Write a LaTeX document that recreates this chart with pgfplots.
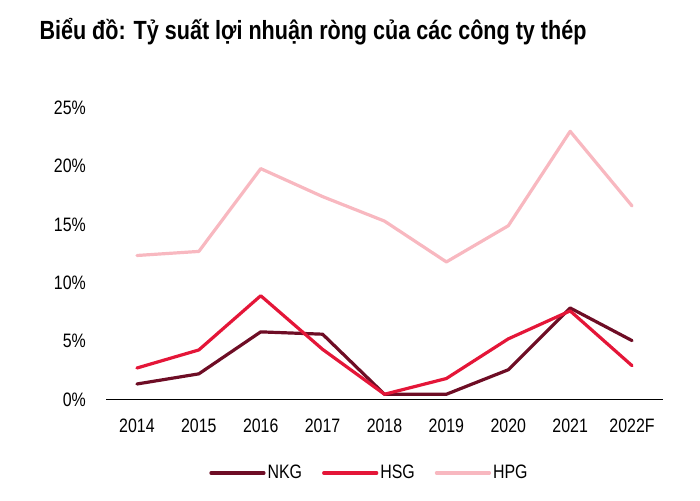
\documentclass[border=0pt]{standalone}
\usepackage{fontspec}
\setmainfont{Liberation Sans}[FakeStretch=0.82]
\usepackage{pgfplots}
\pgfplotsset{compat=1.18}
\definecolor{nkg}{RGB}{110,13,37}
\definecolor{hsg}{RGB}{228,22,56}
\definecolor{hpg}{RGB}{248,184,192}
\definecolor{baseline}{RGB}{217,217,217}
\begin{document}
\begin{tikzpicture}
\useasboundingbox (0bp,0bp) rectangle (700bp,501bp);
\node[anchor=base west, inner sep=0pt, font=\bfseries\fontsize{26.4}{30}\selectfont] at (39.3bp,461.7bp) {Biểu đồ: Tỷ suất lợi nhuận ròng của các công ty thép};
\begin{axis}[
  at={(106bp,101.5bp)}, anchor=south west,
  scale only axis, width=557bp, height=291.5bp,
  xmin=-0.5, xmax=8.5, ymin=0, ymax=25,
  axis x line*=bottom, axis y line*=left,
  x axis line style={baseline, line width=1.5bp},
  y axis line style={draw=none},
  xtick={0,...,8},
  xticklabels={2014,2015,2016,2017,2018,2019,2020,2021,2022F},
  ytick={0,5,10,15,20,25},
  yticklabels={0\%,5\%,10\%,15\%,20\%,25\%},
  major tick length=0pt,
  tick style={draw=none},
  tick label style={font=\fontsize{19.5}{22}\selectfont, inner sep=0pt},
  xticklabel shift=19.5bp,
  yticklabel shift=20bp,
  clip=false,
  legend columns=3,
  legend style={at={(0.473,-0.252)}, anchor=center, draw=none, fill=none,
    font=\fontsize{19.5}{22}\selectfont,
    /tikz/every even column/.append style={column sep=18bp},
    nodes={inner sep=2bp}},
  legend image code/.code={\draw[#1, line width=3.2bp, line cap=round] (0bp,0bp) -- (53bp,0bp);},
  every axis plot/.append style={line width=3.2bp, line cap=round, line join=round, mark=none},
]
\addplot[nkg] coordinates {(0,1.33) (1,2.2) (2,5.8) (3,5.6) (4,0.45) (5,0.45) (6,2.55) (7,7.85) (8,5.05)};
\addlegendentry{NKG}
\addplot[hsg] coordinates {(0,2.7) (1,4.25) (2,8.9) (3,4.3) (4,0.45) (5,1.8) (6,5.2) (7,7.6) (8,2.9)};
\addlegendentry{HSG}
\addplot[hpg] coordinates {(0,12.35) (1,12.7) (2,19.8) (3,17.4) (4,15.3) (5,11.8) (6,14.9) (7,23.0) (8,16.6)};
\addlegendentry{HPG}
\end{axis}
\end{tikzpicture}
\end{document}
